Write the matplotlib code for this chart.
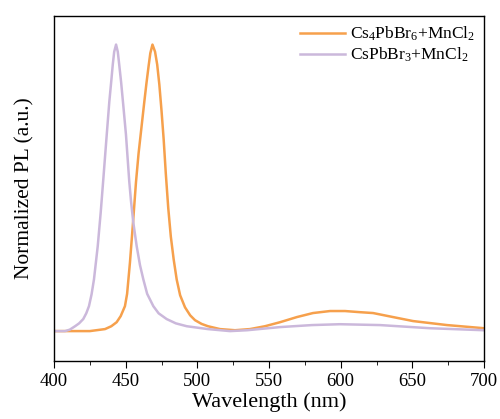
import numpy as np
import matplotlib
matplotlib.use("Agg")
import matplotlib.pyplot as plt
from matplotlib.ticker import MultipleLocator, NullLocator

plt.rcParams['font.family'] = 'Liberation Serif'
plt.rcParams['mathtext.fontset'] = 'custom'
plt.rcParams['mathtext.rm'] = 'Liberation Serif'
plt.rcParams['mathtext.it'] = 'Liberation Serif:italic'

# Cs4PbBr6 + MnCl2 (orange)
wl_cs4 = [400, 425.0, 435.6, 440.0, 443.7, 446.5, 449.5, 451.0, 453.0, 455.0,
          457.2, 459.0, 461.0, 463.0, 464.5, 466.0, 467.2, 468.7, 470.5, 472.0,
          473.5, 475.0, 476.5, 478.0, 479.7, 481.5, 483.5, 485.6, 488.0, 491.4,
          495.0, 498.4, 503.0, 507.4, 515.8, 526.3, 536.7, 547.2, 557.7, 569.5,
          580.7, 592.6, 603.0, 613.5, 622.6, 636.5, 650.5, 674.2, 700]
pl_cs4 = [0.0, 0.0, 0.007, 0.017, 0.031, 0.052, 0.087, 0.13, 0.24, 0.37,
          0.52, 0.62, 0.71, 0.80, 0.865, 0.925, 0.97, 1.0, 0.975, 0.93,
          0.86, 0.77, 0.67, 0.55, 0.43, 0.33, 0.25, 0.18, 0.125, 0.083,
          0.055, 0.038, 0.025, 0.017, 0.007, 0.003, 0.007, 0.017, 0.031, 0.049,
          0.063, 0.070, 0.070, 0.066, 0.063, 0.049, 0.035, 0.021, 0.010]

# CsPbBr3 + MnCl2 (purple)
wl_cs = [400, 407.7, 411.0, 414.7, 417.5, 420.4, 422.5, 424.4, 426.2, 427.9,
         430.5, 432.6, 434.4, 436.8, 438.6, 440.0, 441.0, 442.0, 443.3, 444.5,
         445.5, 446.8, 448.3, 450.2, 452.5, 453.7, 455.3, 457.7, 460.0, 462.3,
         465.0, 469.3, 473.0, 478.6, 485.0, 492.6, 507.4, 522.8, 534.7, 557.7,
         580.0, 599.5, 627.4, 662.3, 700]
pl_cs = [0.0, 0.0, 0.005, 0.017, 0.027, 0.042, 0.062, 0.087, 0.128, 0.181,
         0.296, 0.415, 0.530, 0.686, 0.801, 0.875, 0.93, 0.975, 1.0, 0.975,
         0.93, 0.87, 0.79, 0.686, 0.523, 0.455, 0.38, 0.296, 0.23, 0.181,
         0.13, 0.087, 0.062, 0.042, 0.027, 0.017, 0.007, 0.0, 0.003, 0.014,
         0.021, 0.024, 0.021, 0.010, 0.003]

fig = plt.figure(figsize=(5.0, 4.19), dpi=100)
ax = fig.add_axes([0.108, 0.138, 0.86, 0.824])

ax.plot(wl_cs4, pl_cs4, color='#F6A04C', lw=1.8, solid_joinstyle='round',
        label='Cs$_4$PbBr$_6$+MnCl$_2$')
ax.plot(wl_cs, pl_cs, color='#CBB8DB', lw=1.8, solid_joinstyle='round',
        label='CsPbBr$_3$+MnCl$_2$')

ax.set_xlim(400, 700)
ax.set_ylim(-0.105, 1.10)
ax.xaxis.set_major_locator(MultipleLocator(50))
ax.xaxis.set_minor_locator(MultipleLocator(25))
ax.yaxis.set_major_locator(NullLocator())
ax.tick_params(axis='x', which='major', direction='out', length=5, labelsize=13.5)
ax.tick_params(axis='x', which='minor', direction='out', length=3)
for s in ax.spines.values():
    s.set_linewidth(1.0)

ax.set_xlabel('Wavelength (nm)', fontsize=16, labelpad=2)
ax.set_ylabel('Normalized PL (a.u.)', fontsize=15.5, labelpad=14)

ax.legend(loc='upper right', frameon=False, fontsize=12.5, handlelength=2.6,
          handletextpad=0.3, labelspacing=0.15, borderaxespad=0.1)

fig.savefig('out.png', dpi=100)
